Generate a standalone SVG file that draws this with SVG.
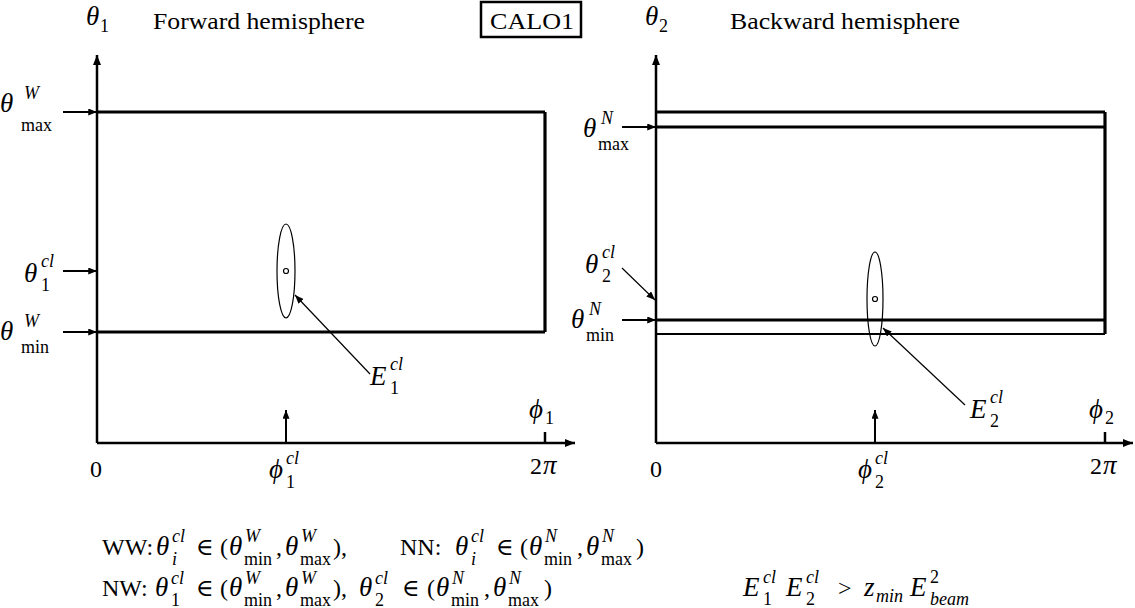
<svg xmlns="http://www.w3.org/2000/svg" width="1135" height="608" viewBox="0 0 1135 608">
<defs>
<marker id="ah" viewBox="0 0 10 8" refX="10" refY="4" markerWidth="10" markerHeight="8" markerUnits="userSpaceOnUse" orient="auto">
<path d="M0,0 L10,4 L0,8 Z" fill="#000"/>
</marker>
<marker id="ahs" viewBox="0 0 10 8" refX="10" refY="4" markerWidth="9" markerHeight="7" markerUnits="userSpaceOnUse" orient="auto">
<path d="M0,0 L10,4 L0,8 Z" fill="#000"/>
</marker>
</defs>
<style>
.t{font-family:"Liberation Serif","DejaVu Serif",serif;font-size:24px}
.m{font-family:"Liberation Serif","DejaVu Serif",serif;font-size:27px;font-style:italic}
.s{font-family:"Liberation Serif","DejaVu Serif",serif;font-size:18px}
.si{font-family:"Liberation Serif","DejaVu Serif",serif;font-size:18px;font-style:italic}
.ax{stroke:#000;stroke-width:2.5;fill:none}
.thick{stroke:#000;stroke-width:3.2;fill:none}
.thin{stroke:#000;stroke-width:2;fill:none}
.ptr{stroke:#000;stroke-width:1.2;fill:none}
.ell{stroke:#000;stroke-width:1.2;fill:none}
</style>
<rect width="1135" height="608" fill="#fff"/>

<g id="title">
<rect x="481" y="2" width="100" height="35" fill="none" stroke="#000" stroke-width="2.5"/>
<text class="t" x="490" y="29" textLength="84" lengthAdjust="spacingAndGlyphs">CALO1</text>
</g>

<g id="forward-panel">
<text class="t" x="153" y="29" textLength="212" lengthAdjust="spacingAndGlyphs">Forward hemisphere</text>
<text><tspan class="m" x="86" y="25">θ</tspan><tspan class="s" x="100" y="32">1</tspan></text>
<text><tspan class="m" x="0" y="112">θ</tspan><tspan class="si" x="24" y="99">W</tspan><tspan class="s" x="21" y="131">max</tspan></text>
<text><tspan class="m" x="24" y="282">θ</tspan><tspan class="si" x="41" y="267">cl</tspan><tspan class="s" x="41" y="291">1</tspan></text>
<text><tspan class="m" x="0" y="340">θ</tspan><tspan class="si" x="24" y="327">W</tspan><tspan class="s" x="21" y="353">min</tspan></text>
<text><tspan class="m" x="370" y="385">E</tspan><tspan class="si" x="390" y="370">cl</tspan><tspan class="s" x="390" y="394">1</tspan></text>
<text><tspan class="m" x="529" y="418">ϕ</tspan><tspan class="s" x="545" y="424">1</tspan></text>
<text class="t" x="90" y="477">0</text>
<text><tspan class="m" x="269" y="478">ϕ</tspan><tspan class="si" x="286" y="464">cl</tspan><tspan class="s" x="286" y="488">1</tspan></text>
<text><tspan class="t" x="530" y="474">2</tspan><tspan class="m" x="543" y="474">π</tspan></text>
<ellipse class="ell" cx="286" cy="271" rx="9" ry="47"/>
<circle class="ell" cx="286" cy="271" r="2.5"/>
<line class="thick" x1="97" y1="112" x2="545" y2="112"/>
<line class="thick" x1="545" y1="112" x2="545" y2="332"/>
<line class="thick" x1="97" y1="332" x2="545" y2="332"/>
</g>

<g id="backward-panel">
<text class="t" x="730" y="29" textLength="230" lengthAdjust="spacingAndGlyphs">Backward hemisphere</text>
<text><tspan class="m" x="645" y="25">θ</tspan><tspan class="s" x="659" y="32">2</tspan></text>
<text><tspan class="m" x="583" y="137">θ</tspan><tspan class="si" x="601" y="124">N</tspan><tspan class="s" x="598" y="150">max</tspan></text>
<text><tspan class="m" x="585" y="273">θ</tspan><tspan class="si" x="602" y="258">cl</tspan><tspan class="s" x="602" y="282">2</tspan></text>
<text><tspan class="m" x="571" y="328">θ</tspan><tspan class="si" x="589" y="315">N</tspan><tspan class="s" x="586" y="341">min</tspan></text>
<text><tspan class="m" x="970" y="418">E</tspan><tspan class="si" x="990" y="403">cl</tspan><tspan class="s" x="990" y="427">2</tspan></text>
<text><tspan class="m" x="1089" y="418">ϕ</tspan><tspan class="s" x="1105" y="424">2</tspan></text>
<text class="t" x="650" y="477">0</text>
<text><tspan class="m" x="858" y="478">ϕ</tspan><tspan class="si" x="875" y="464">cl</tspan><tspan class="s" x="875" y="488">2</tspan></text>
<text><tspan class="t" x="1090" y="474">2</tspan><tspan class="m" x="1103" y="474">π</tspan></text>
<ellipse class="ell" cx="875" cy="299" rx="8" ry="47"/>
<circle class="ell" cx="875" cy="299" r="2.5"/>
<line class="thick" x1="656" y1="112" x2="1105" y2="112"/>
<line class="thick" x1="656" y1="127" x2="1105" y2="127"/>
<line class="thick" x1="1105" y1="112" x2="1105" y2="334"/>
<line class="thick" x1="656" y1="320" x2="1105" y2="320"/>
<line class="thin" x1="656" y1="334" x2="1105" y2="334"/>
</g>

<g id="conditions">
<text><tspan class="t" x="102" y="555">WW:</tspan><tspan class="m" x="156" y="555">θ</tspan><tspan class="si" x="172" y="542">cl</tspan><tspan class="si" x="172" y="565">i</tspan><tspan class="t" x="196" y="555">∈</tspan><tspan class="t" x="220" y="555">(</tspan><tspan class="m" x="229" y="555">θ</tspan><tspan class="si" x="245" y="542">W</tspan><tspan class="s" x="244" y="565">min</tspan><tspan class="t" x="276" y="555">,</tspan><tspan class="m" x="285" y="555">θ</tspan><tspan class="si" x="301" y="542">W</tspan><tspan class="s" x="300" y="565">max</tspan><tspan class="t" x="333" y="555">),</tspan><tspan class="t" x="400" y="555">NN:</tspan><tspan class="m" x="455" y="555">θ</tspan><tspan class="si" x="471" y="542">cl</tspan><tspan class="si" x="471" y="565">i</tspan><tspan class="t" x="496" y="555">∈</tspan><tspan class="t" x="520" y="555">(</tspan><tspan class="m" x="529" y="555">θ</tspan><tspan class="si" x="545" y="542">N</tspan><tspan class="s" x="544" y="565">min</tspan><tspan class="t" x="577" y="555">,</tspan><tspan class="m" x="586" y="555">θ</tspan><tspan class="si" x="602" y="542">N</tspan><tspan class="s" x="601" y="565">max</tspan><tspan class="t" x="636" y="555">)</tspan></text>
<text><tspan class="t" x="102" y="596">NW:</tspan><tspan class="m" x="155" y="596">θ</tspan><tspan class="si" x="171" y="584">cl</tspan><tspan class="s" x="171" y="606">1</tspan><tspan class="t" x="196" y="596">∈</tspan><tspan class="t" x="220" y="596">(</tspan><tspan class="m" x="229" y="596">θ</tspan><tspan class="si" x="245" y="584">W</tspan><tspan class="s" x="244" y="606">min</tspan><tspan class="t" x="276" y="596">,</tspan><tspan class="m" x="285" y="596">θ</tspan><tspan class="si" x="301" y="584">W</tspan><tspan class="s" x="300" y="606">max</tspan><tspan class="t" x="333" y="596">),</tspan><tspan class="m" x="359" y="596">θ</tspan><tspan class="si" x="375" y="584">cl</tspan><tspan class="s" x="375" y="606">2</tspan><tspan class="t" x="402" y="596">∈</tspan><tspan class="t" x="427" y="596">(</tspan><tspan class="m" x="436" y="596">θ</tspan><tspan class="si" x="452" y="584">N</tspan><tspan class="s" x="451" y="606">min</tspan><tspan class="t" x="484" y="596">,</tspan><tspan class="m" x="493" y="596">θ</tspan><tspan class="si" x="509" y="584">N</tspan><tspan class="s" x="508" y="606">max</tspan><tspan class="t" x="544" y="596">)</tspan></text>
<text><tspan class="m" x="743" y="596">E</tspan><tspan class="si" x="763" y="583">cl</tspan><tspan class="s" x="763" y="605">1</tspan><tspan class="m" x="786" y="596">E</tspan><tspan class="si" x="806" y="583">cl</tspan><tspan class="s" x="806" y="605">2</tspan><tspan class="t" x="838" y="596">&gt;</tspan><tspan class="m" x="864" y="596">z</tspan><tspan class="si" x="876" y="602">min</tspan><tspan class="m" x="910" y="596">E</tspan><tspan class="s" x="930" y="583">2</tspan><tspan class="si" x="930" y="605">beam</tspan></text>
</g>

<g id="connectors">
<line class="ax" x1="97" y1="443" x2="97" y2="55" marker-end="url(#ah)"/>
<line class="ax" x1="97" y1="443" x2="575" y2="443" marker-end="url(#ah)"/>
<line class="ax" x1="545" y1="432" x2="545" y2="443"/>
<line class="thin" x1="63" y1="112" x2="97" y2="112" marker-end="url(#ahs)"/>
<line class="thin" x1="63" y1="271" x2="97" y2="271" marker-end="url(#ahs)"/>
<line class="thin" x1="63" y1="332" x2="97" y2="332" marker-end="url(#ahs)"/>
<line class="thin" x1="286" y1="443" x2="286" y2="410" marker-end="url(#ahs)"/>
<line class="ptr" x1="370" y1="374" x2="295" y2="295" marker-end="url(#ahs)"/>

<line class="ax" x1="656" y1="443" x2="656" y2="55" marker-end="url(#ah)"/>
<line class="ax" x1="656" y1="443" x2="1133" y2="443" marker-end="url(#ah)"/>
<line class="ax" x1="1105" y1="432" x2="1105" y2="443"/>
<line class="thin" x1="622" y1="127" x2="656" y2="127" marker-end="url(#ahs)"/>
<line class="ptr" x1="622" y1="268" x2="655" y2="300" marker-end="url(#ahs)"/>
<line class="thin" x1="622" y1="320" x2="656" y2="320" marker-end="url(#ahs)"/>
<line class="thin" x1="875" y1="443" x2="875" y2="410" marker-end="url(#ahs)"/>
<line class="ptr" x1="965" y1="405" x2="883" y2="328" marker-end="url(#ahs)"/>
</g>
</svg>
